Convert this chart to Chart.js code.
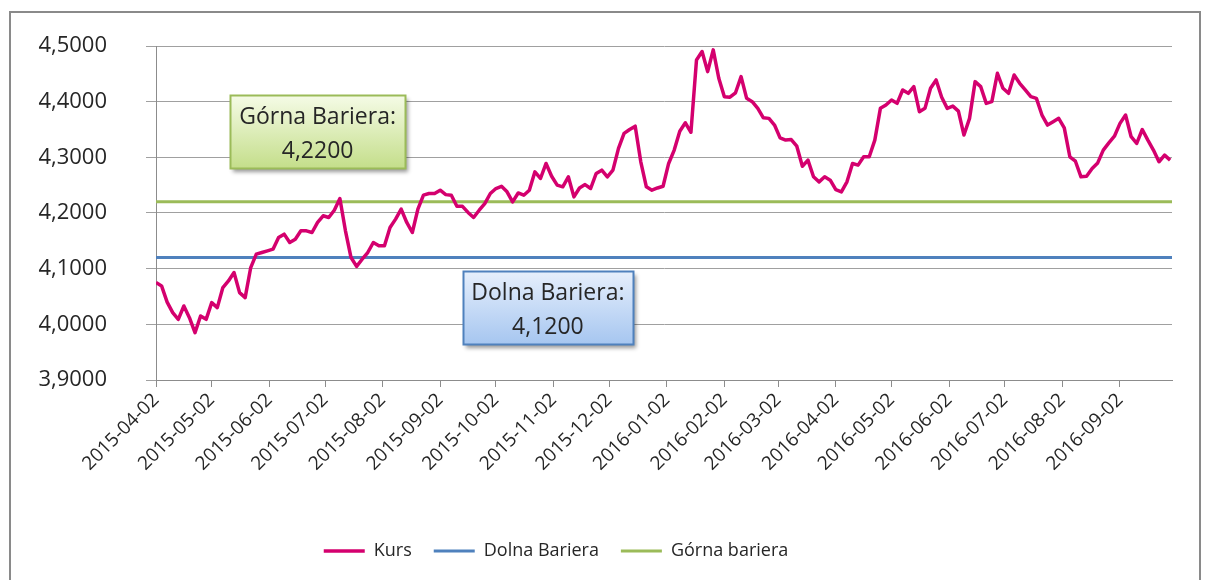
<!DOCTYPE html>
<html>
<head>
<meta charset="utf-8">
<script src="https://cdn.jsdelivr.net/npm/chart.js@4/dist/chart.umd.min.js"></script>
<style>
  html, body { margin:0; padding:0; background:#fff; overflow:hidden; }
  #frame { position:absolute; left:9px; top:11px; width:1192px; height:600px; border:2px solid #8a8a8a; box-sizing:border-box; }
  #wrap { position:absolute; left:0; top:0; width:1210px; height:580px; }
</style>
</head>
<body>
<div id="frame"></div>
<div id="wrap"><canvas id="chart" width="1210" height="580"></canvas></div>
<script>
// kurs sampled every 3 calendar days starting 2015-04-02
const startDate = "2015-04-02";
const stepDays = 3;
const kurs = [
  4.075, 4.069, 4.040, 4.021, 4.009, 4.033, 4.012, 3.985, 4.015, 4.009,
  4.039, 4.030, 4.066, 4.078, 4.093, 4.057, 4.048, 4.102, 4.126, 4.129,
  4.132, 4.135, 4.156, 4.162, 4.147, 4.153, 4.168, 4.168, 4.165, 4.183,
  4.195, 4.192, 4.205, 4.226, 4.168, 4.120, 4.104, 4.117, 4.129, 4.147,
  4.141, 4.141, 4.174, 4.189, 4.207, 4.183, 4.165, 4.207, 4.232, 4.235,
  4.235, 4.241, 4.233, 4.232, 4.212, 4.212, 4.201, 4.192, 4.205, 4.217,
  4.235, 4.244, 4.248, 4.238, 4.220, 4.236, 4.232, 4.241, 4.274, 4.262,
  4.289, 4.266, 4.250, 4.247, 4.265, 4.229, 4.245, 4.251, 4.244, 4.271,
  4.277, 4.265, 4.277, 4.316, 4.343, 4.350, 4.356, 4.292, 4.247, 4.241,
  4.245, 4.248, 4.289, 4.313, 4.347, 4.362, 4.345, 4.475, 4.490, 4.454,
  4.493, 4.442, 4.409, 4.408, 4.416, 4.445, 4.406, 4.400, 4.388, 4.371,
  4.370, 4.358, 4.335, 4.331, 4.332, 4.320, 4.284, 4.295, 4.265, 4.256,
  4.265, 4.259, 4.242, 4.238, 4.256, 4.289, 4.286, 4.301, 4.301, 4.331,
  4.388, 4.394, 4.403, 4.397, 4.421, 4.415, 4.427, 4.382, 4.388, 4.424,
  4.439, 4.408, 4.388, 4.392, 4.383, 4.340, 4.370, 4.436, 4.427, 4.397,
  4.400, 4.451, 4.424, 4.415, 4.448, 4.433, 4.421, 4.409, 4.406, 4.376,
  4.358, 4.364, 4.370, 4.353, 4.301, 4.293, 4.265, 4.266, 4.280, 4.290,
  4.313, 4.326, 4.338, 4.361, 4.376, 4.337, 4.325, 4.350, 4.331, 4.313,
  4.292, 4.304, 4.295
];
const dolnaBariera = 4.12;
const gornaBariera = 4.22;
const tickLabels = [
  "2015-04-02","2015-05-02","2015-06-02","2015-07-02","2015-08-02","2015-09-02",
  "2015-10-02","2015-11-02","2015-12-02","2016-01-02","2016-02-02","2016-03-02",
  "2016-04-02","2016-05-02","2016-06-02","2016-07-02","2016-08-02","2016-09-02"
];
const lastDay = 547;

function dayOf(d){ return Math.round((Date.parse(d+"T00:00:00Z") - Date.parse(startDate+"T00:00:00Z"))/86400000); }
function fmt(v){ return v.toFixed(4).replace(".", ","); }

const kursPoints = kurs.map((v,i) => ({ x: i*stepDays, y: v }));
const flat = v => [{ x: 0, y: v }, { x: lastDay, y: v }];

// callout boxes, anchored in data units
const callouts = [
  { lines: ["Górna Bariera:", fmt(gornaBariera)], day: 87, value: 4.346, w: 175, h: 73,
    top: "#f5fbe6", bottom: "#c4de8a", border: "#9bbb59" },
  { lines: ["Dolna Bariera:", fmt(dolnaBariera)], day: 211, value: 4.031, w: 170, h: 73,
    top: "#e6effc", bottom: "#a6c6f0", border: "#4f81bd" }
];

const calloutPlugin = {
  id: "callouts",
  afterDatasetsDraw(chart){
    const { ctx, scales: { x, y } } = chart;
    callouts.forEach(c => {
      const cx = x.getPixelForValue(c.day), cy = y.getPixelForValue(c.value);
      const l = Math.round(cx - c.w/2) + 0.5, t = Math.round(cy - c.h/2) + 0.5;
      ctx.save();
      const g = ctx.createLinearGradient(0, t, 0, t + c.h);
      g.addColorStop(0, c.top); g.addColorStop(1, c.bottom);
      ctx.shadowColor = "rgba(0,0,0,0.4)"; ctx.shadowBlur = 4; ctx.shadowOffsetX = 2; ctx.shadowOffsetY = 3;
      ctx.fillStyle = g; ctx.fillRect(l, t, c.w, c.h);
      ctx.shadowColor = "transparent";
      ctx.strokeStyle = c.border; ctx.lineWidth = 2; ctx.strokeRect(l, t, c.w, c.h);
      ctx.fillStyle = "#262626"; ctx.font = "23px 'Open Sans'";
      ctx.textAlign = "center"; ctx.textBaseline = "middle";
      ctx.fillText(c.lines[0], cx, t + 22);
      ctx.fillText(c.lines[1], cx, t + 56);
      ctx.restore();
    });
  }
};

const legendShift = {
  id: "legendShift",
  afterLayout(chart){ const lg = chart.legend; if(lg){ lg.left -= 30; lg.right -= 30; } }
};

new Chart(document.querySelector("#chart"), {
  type: "line",
  data: {
    datasets: [
      { label: "Kurs", data: kursPoints, borderColor: "#d4006e", backgroundColor: "#d4006e", borderWidth: 3.5 },
      { label: "Dolna Bariera", data: flat(dolnaBariera), borderColor: "#4f81bd", backgroundColor: "#4f81bd", borderWidth: 3 },
      { label: "Górna bariera", data: flat(gornaBariera), borderColor: "#9bbb59", backgroundColor: "#9bbb59", borderWidth: 3 }
    ]
  },
  options: {
    responsive: false,
    animation: false,
    events: [],
    elements: { point: { radius: 0 }, line: { tension: 0, borderJoinStyle: "round" } },
    layout: { padding: { left: 0, right: 38, top: 46, bottom: 10 } },
    plugins: {
      tooltip: { enabled: false },
      legend: {
        position: "bottom",
        labels: { usePointStyle: true, pointStyle: "line", pointStyleWidth: 41, padding: 22,
          color: "#262626", font: { family: "'Open Sans'", size: 18 } }
      }
    },
    scales: {
      x: {
        type: "linear", min: 0, max: lastDay,
        afterBuildTicks(scale){ scale.ticks = tickLabels.map(d => ({ value: dayOf(d) })); },
        afterFit(scale){ scale.height = 140; },
        grid: { drawOnChartArea: false, drawTicks: true, tickLength: 7, color: "#8c8c8c" },
        border: { color: "#8c8c8c", width: 1 },
        ticks: { autoSkip: false, maxRotation: 45, minRotation: 45, padding: 2, color: "#262626",
          font: { family: "'Open Sans'", size: 19 },
          callback: (v, i) => tickLabels[i] }
      },
      y: {
        min: 3.9, max: 4.5,
        afterFit(scale){ scale.width = 156; scale.paddingTop = 5; scale.paddingBottom = 5; },
        ticks: { stepSize: 0.1, padding: 39, color: "#262626", font: { family: "'Open Sans'", size: 22 },
          callback: v => fmt(v) },
        grid: { color: "#a0a0a0", tickLength: 10 },
        border: { color: "#8c8c8c", width: 1 }
      }
    }
  },
  plugins: [calloutPlugin, legendShift]
});
</script>
</body>
</html>
